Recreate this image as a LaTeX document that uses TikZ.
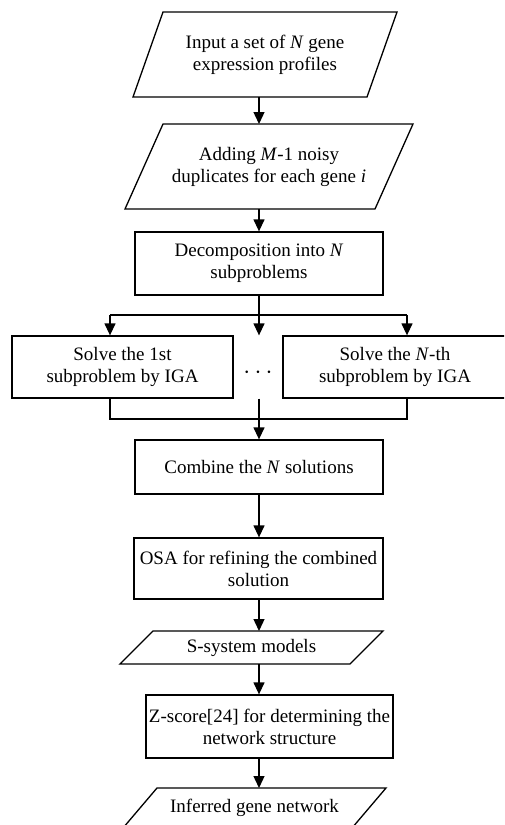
\documentclass[tikz,border=0pt]{standalone}
\usepackage{fontspec}
\setmainfont{Liberation Serif}
\usetikzlibrary{arrows.meta,positioning}

% slanted input/output box drawn round a named node
\newcommand{\iobox}[2]{\draw[lnk] ([xshift=#2]#1.north west) -- (#1.north east)
  -- ([xshift=-#2]#1.south east) -- (#1.south west) -- cycle;}

\begin{document}
\begin{tikzpicture}[x=1pt,y=-1pt,
  font=\fontsize{19}{22}\selectfont,
  proc/.style={draw,line width=1.3pt,rectangle,align=center,inner sep=2pt},
  io/.style={rectangle,align=center,inner sep=2pt,outer sep=0pt},
  arr/.style={-{Triangle[length=12pt,width=11pt]},line width=1.3pt},
  lnk/.style={line width=1.3pt}]
\clip (0,0) rectangle (504,825);
\node[io,minimum width=264,minimum height=85] (input) at (265,54.5) {Input a set of \textit{N} gene\\expression profiles};
\node[io,minimum width=288,minimum height=85] (noisy) at (269,166.5) {Adding \textit{M}-1 noisy\\duplicates for each gene \textit{i}};
\node[proc,minimum width=248,minimum height=63] (dec) at (259,263.5) {Decomposition into \textit{N}\\subproblems};
\node[proc,minimum width=221,minimum height=62] (sol1) at (122.5,367) {Solve the 1st\\subproblem by IGA};
\node[proc,minimum width=224,minimum height=62] (solN) at (395,367) {Solve the \textit{N}-th\\subproblem by IGA};
\node[font=\fontsize{23}{23}\selectfont] (dots) at (258,373) {$\cdots$};
\node[proc,minimum width=248,minimum height=54] (comb) at (259,467) {Combine the \textit{N} solutions};
\node[proc,minimum width=249,minimum height=61] (osa) at (258.5,568.5) {OSA for refining the combined\\solution};
\node[io,minimum width=263,minimum height=33] (ssys) at (251.5,647.5) {S-system models};
\node[proc,minimum width=247,minimum height=63] (zsc) at (269.5,726.5) {Z-score[24] for determining the\\network structure};
\node[io,minimum width=263,minimum height=40] (net) at (254.5,808) {Inferred gene network};
\iobox{input}{30}
\iobox{noisy}{38}
\iobox{ssys}{33}
\iobox{net}{34}
% fork and join points
\coordinate (fork) at (259,315);
\coordinate (forkL) at (110,315);
\coordinate (forkR) at (407,315);
\coordinate (joinL) at (110,419);
\coordinate (joinR) at (407,419);
\draw[arr] (dec |- input.south) -- (dec |- noisy.north);
\draw[arr] (dec |- noisy.south) -- (dec.north);
\draw[lnk] (dec.south) -- (fork);
\draw[lnk] (forkL) -- (forkR);
\draw[arr] (forkL) -- (forkL |- sol1.north);
\draw[arr] (fork) -- (fork |- sol1.north);
\draw[arr] (forkR) -- (forkR |- solN.north);
\draw[lnk] (joinL |- sol1.south) -- (joinL) -- (joinR) -- (joinR |- solN.south);
\draw[arr] (fork |- sol1.south) -- (comb.north);
\draw[arr] (dec |- comb.south) -- (dec |- osa.north);
\draw[arr] (dec |- osa.south) -- (dec |- ssys.north);
\draw[arr] (dec |- ssys.south) -- (dec |- zsc.north);
\draw[arr] (dec |- zsc.south) -- (dec |- net.north);
\end{tikzpicture}
\end{document}
